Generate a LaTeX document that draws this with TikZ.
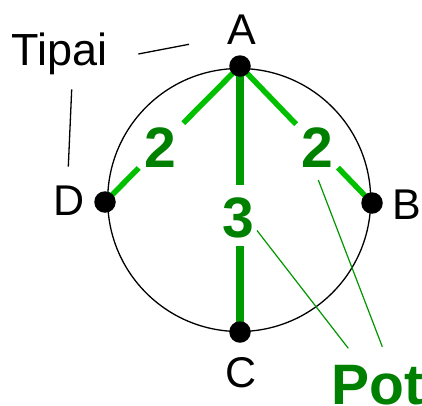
\documentclass[tikz,border=0pt]{standalone}
\usepackage{fontspec}
\setmainfont{Liberation Sans}
\usetikzlibrary{calc}
\definecolor{edgeg}{RGB}{0,192,0}
\definecolor{edgec}{RGB}{0,155,0}
\definecolor{numg}{RGB}{0,128,0}
\definecolor{leadg}{RGB}{0,150,0}
\tikzset{
 dot/.style={circle, fill=black, inner sep=0pt, minimum size=21.5pt},
 letter/.style={font=\fontsize{43}{43}\selectfont, inner sep=0pt, anchor=base},
 weight/.style={font=\bfseries\fontsize{57}{57}\selectfont, text=numg, inner sep=0pt, anchor=base},
 sideedge/.style={draw=edgeg, line width=5.5pt},
 midedge/.style={draw=edgec, line width=8.5pt},
 blackleader/.style={draw=black, line width=1.3pt},
 greenleader/.style={draw=leadg, line width=1.2pt},
}
\begin{document}
\begin{tikzpicture}[x=1pt,y=-1pt]
\useasboundingbox (0,0) rectangle (422,405);
\coordinate (A) at (240,66);
\coordinate (B) at (372,203);
\coordinate (C) at (240,332);
\coordinate (D) at (105,202);
% ring
\node[circle, draw, line width=1.3pt, minimum size=263pt, inner sep=0pt] (ring) at (239.2,200) {};
% edges
\draw[sideedge] (A) -- ($(A)!0.42!(D)$);
\draw[sideedge] ($(A)!0.75!(D)$) -- (D);
\draw[sideedge] (A) -- ($(A)!0.425!(B)$);
\draw[sideedge] ($(A)!0.742!(B)$) -- (B);
\draw[midedge] (A) -- ($(A)!0.447!(C)$);
\draw[midedge] ($(A)!0.677!(C)$) -- (C);
% dots
\node[dot] (dA) at (A) {};
\node[dot] (dB) at (B) {};
\node[dot] (dC) at (C) {};
\node[dot] (dD) at (D) {};
% letters
\node[letter] (lA) at (242,44) {A};
\node[letter] (lD) at (69,215) {D};
\node[letter, anchor=base west] (lB) at (392.5,219) {B};
\node[letter] (lC) at (241,387.5) {C};
\node[font=\fontsize{45}{45}\selectfont, inner sep=0pt, anchor=base west] (tipai) at (11,65) {Tipai};
% weights
\node[weight] (w1) at (160,167) {2};
\node[weight] (w2) at (317,167) {2};
\node[weight] (w3) at (238.5,237.5) {3};
\node[weight, anchor=base west] (pot) at (331,404) {Pot};
% leaders
\coordinate (t1) at (138.3,54);
\coordinate (t2) at (189,44.3);
\coordinate (t3) at (71.7,89.3);
\coordinate (t4) at (68.3,166.7);
\draw[blackleader] (t1) -- (t2);
\draw[blackleader] (t3) -- (t4);
\coordinate (p1a) at (257,230.5);
\coordinate (p1b) at (348.3,348.3);
\coordinate (p2a) at (318.3,180);
\coordinate (p2b) at (382.3,346.7);
\draw[greenleader] (p1a) -- (p1b);
\draw[greenleader] (p2a) -- (p2b);
\end{tikzpicture}
\end{document}
